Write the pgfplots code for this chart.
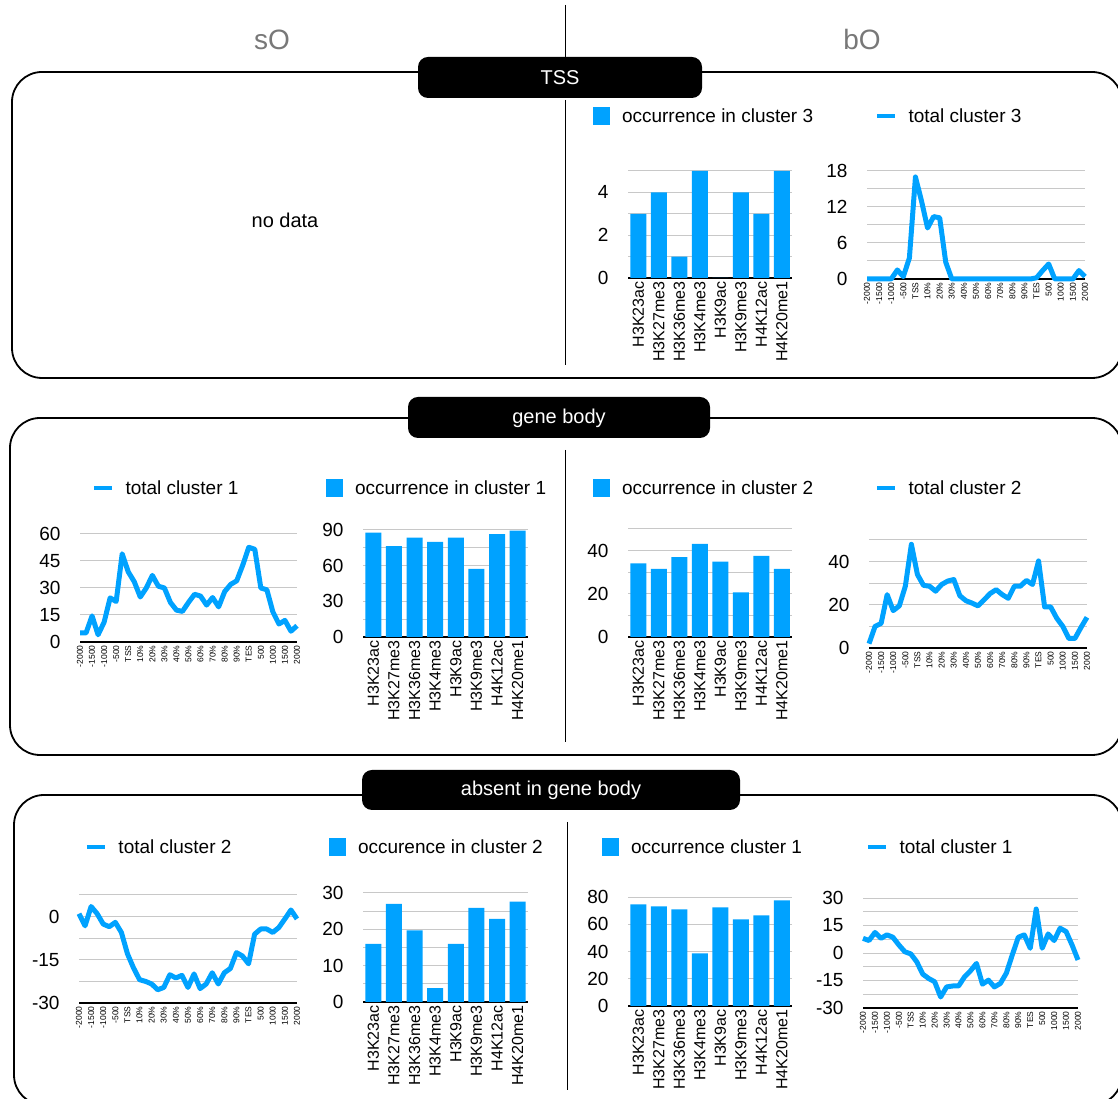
\documentclass[border=0pt]{standalone}
\usepackage{fontspec}
\setmainfont{Liberation Sans}
\usepackage{pgfplots}
\pgfplotsset{compat=1.18}

\definecolor{barblue}{RGB}{0,162,255}
\definecolor{gridgray}{RGB}{200,200,200}
\definecolor{headgray}{RGB}{120,120,120}
\newcommand\fs[1]{\fontsize{#1}{#1}\selectfont}

\pgfplotsset{
  base/.style={
    scale only axis,
    axis x line*=bottom, axis y line*=left,
    y axis line style={draw=none},
    x axis line style={black, line width=1.8pt, -},
    major tick length=0pt, minor tick length=0pt,
    ymajorgrids, yminorgrids,
    major grid style={gridgray, line width=1pt},
    minor grid style={gridgray, line width=1pt},
    yticklabel style={font=\fs{19}, xshift=-16pt},
    /pgf/number format/assume math mode=true,
    legend style={draw=none, fill=none, inner sep=0pt, outer sep=0pt,
      anchor=west, nodes={inner sep=0pt, font=\fs{19}}},
    legend cell align=left,
  },
  barax/.style={
    base, xmin=-0.5, xmax=7.5, ymin=0,
    xtick={0,...,7},
    xticklabels={H3K23ac,H3K27me3,H3K36me3,H3K4me3,H3K9ac,H3K9me3,H4K12ac,H4K20me1},
    xticklabel style={rotate=90, anchor=east, font=\fs{16}},
  },
  lineax/.style={
    base, xmin=0, xmax=36, clip=false,
    xtick={0,2,...,36},
    xticklabels={-2000,-1500,-1000,-500,TSS,10\%,20\%,30\%,40\%,50\%,60\%,70\%,80\%,90\%,TES,500,1000,1500,2000},
    xticklabel style={rotate=90, anchor=east, font=\fs{8.5}},
  },
  bars/.style={ybar, bar width=16pt, fill=barblue, draw=none,
    legend image code/.code={\fill[barblue] (0pt,-9pt) rectangle (17pt,9pt); \path (29pt,0pt);}},
  curve/.style={barblue, line width=5pt, line join=round,
    legend image code/.code={\draw[barblue, line width=4pt] (0pt,0pt) -- (18pt,0pt); \path (29pt,0pt);}},
}

\begin{document}
\begin{tikzpicture}
\useasboundingbox (0pt,0pt) rectangle (1118pt,1099pt);
\clip (0pt,0pt) rectangle (1118pt,1099pt);

\begin{scope}[x=1pt,y=1pt]
  % frames
  \draw[line width=1.8pt, rounded corners=30pt] (12,721) rectangle (1122,1027);
  \draw[line width=1.8pt, rounded corners=30pt] (10,344) rectangle (1122,681);
  \draw[line width=1.8pt, rounded corners=30pt] (14,-6) rectangle (1122,304);
  % dividers
  \draw[line width=1pt] (565,1094) -- (565,1042);
  \draw[line width=1pt] (565,999) -- (565,734);
  \draw[line width=1pt] (565,649) -- (565,357);
  \draw[line width=1pt] (567,277) -- (567,9);
  % pills
  \fill[black, rounded corners=10pt] (418,1001) rectangle (702,1042);
  \fill[black, rounded corners=10pt] (408,661) rectangle (710,702);
  \fill[black, rounded corners=10pt] (362,289) rectangle (740,329);
  \node[white, font=\fs{20}] at (560,1021) {TSS};
  \node[white, font=\fs{20}] at (559,681) {gene body};
  \node[white, font=\fs{20}] at (551,309) {absent in gene body};
  % headers
  \node[headgray, font=\fs{28}] at (272,1059) {sO};
  \node[headgray, font=\fs{28}] at (862,1059) {bO};
  \node[font=\fs{20}] at (285,879) {no data};
\end{scope}

% ---------- TSS, bO ----------
\begin{axis}[barax, at={(628pt,821pt)}, anchor=south west, width=164pt, height=107pt,
  ymax=5, ytick={0,2,4}, minor ytick={1,3,5},
  legend style={at={(-0.2134,1.514)}}]
\addplot[bars] coordinates {(0,3)(1,4)(2,1)(3,5)(4,0)(5,4)(6,3)(7,5)};
\addlegendentry{occurrence in cluster 3}
\end{axis}

\begin{axis}[lineax, at={(867pt,820pt)}, anchor=south west, width=218pt, height=108pt,
  ymin=0, ymax=18, ytick={0,6,12,18}, minor ytick={3,9,15},
  legend style={at={(0.0367,1.509)}}]
\addplot[curve] coordinates {
  (0,0)(1,0)(2,0)(3,0)(4,0)(5,1.5)(6,0.4)(7,3.5)(8,17)(9,13)(10,8.5)(11,10.4)(12,10.2)
  (13,2.8)(14,0)(15,0)(16,0)(17,0)(18,0)(19,0)(20,0)(21,0)(22,0)(23,0)(24,0)(25,0)
  (26,0)(27,0)(28,0.2)(29,1.4)(30,2.5)(31,0)(32,0)(33,0)(34,0)(35,1.4)(36,0.4)};
\addlegendentry{total cluster 3}
\end{axis}

% ---------- gene body, sO ----------
\begin{axis}[lineax, at={(80pt,457pt)}, anchor=south west, width=217pt, height=108pt,
  ymin=0, ymax=60, ytick={0,15,30,45,60},
  legend style={at={(0.0553,1.426)}}]
\addplot[curve] coordinates {
  (0,5)(1,5)(2,14.5)(3,4)(4,11)(5,24.5)(6,22.5)(7,49)(8,39)(9,33.5)(10,25)(11,30)(12,37)
  (13,31)(14,30)(15,22)(16,17.7)(17,17)(18,22)(19,26.5)(20,25.5)(21,20.5)(22,24.7)(23,19.5)
  (24,28)(25,32)(26,34)(27,42.7)(28,52.6)(29,51.5)(30,30)(31,29)(32,16.7)(33,10)(34,12)
  (35,6)(36,9)};
\addlegendentry{total cluster 1}
\end{axis}

\begin{axis}[barax, at={(363pt,462pt)}, anchor=south west, width=165pt, height=107pt,
  ymax=90, ytick={0,30,60,90}, minor ytick={15,45,75},
  legend style={at={(-0.224,1.393)}}]
\addplot[bars] coordinates {(0,87.7)(1,76.5)(2,83.5)(3,80)(4,83.5)(5,57.4)(6,86.6)(7,89.4)};
\addlegendentry{occurrence in cluster 1}
\end{axis}

% ---------- gene body, bO ----------
\begin{axis}[barax, at={(628pt,462pt)}, anchor=south west, width=164pt, height=108pt,
  ymax=50, ytick={0,20,40}, minor ytick={10,30,50},
  legend style={at={(-0.2134,1.380)}}]
\addplot[bars] coordinates {(0,34.1)(1,31.5)(2,37)(3,43.1)(4,34.9)(5,20.6)(6,37.5)(7,31.5)};
\addlegendentry{occurrence in cluster 2}
\end{axis}

\begin{axis}[lineax, at={(869pt,451pt)}, anchor=south west, width=218pt, height=108pt,
  ymin=0, ymax=50, ytick={0,20,40}, minor ytick={10,30,50},
  legend style={at={(0.0275,1.481)}}]
\addplot[curve] coordinates {
  (0,2)(1,10)(2,11.4)(3,24.7)(4,17.3)(5,19.5)(6,28.6)(7,48)(8,34)(9,29)(10,28.6)(11,26.3)
  (12,29.4)(13,31)(14,31.7)(15,24.2)(16,21.9)(17,20.8)(18,19.5)(19,22.3)(20,25.2)(21,27)
  (22,24.7)(23,23)(24,28.6)(25,28.6)(26,31.3)(27,29.4)(28,40.3)(29,19)(30,19)(31,13.8)
  (32,10)(33,4.4)(34,4.4)(35,9.5)(36,14.2)};
\addlegendentry{total cluster 2}
\end{axis}

% ---------- absent in gene body, sO ----------
\begin{axis}[lineax, at={(79pt,96pt)}, anchor=south west, width=218pt, height=108pt,
  ymin=-30, ymax=7.5, ytick={-30,-15,0}, minor ytick={-22.5,-7.5,7.5},
  legend style={at={(0.0275,1.444)}}]
\addplot[curve] coordinates {
  (0,1)(1,-3.2)(2,3.5)(3,1)(4,-2.6)(5,-3.5)(6,-2)(7,-5.5)(8,-12.9)(9,-17.8)(10,-21.9)
  (11,-22.5)(12,-23.4)(13,-25.4)(14,-24.6)(15,-20.2)(16,-21.3)(17,-20.4)(18,-24.6)(19,-19.9)
  (20,-25)(21,-23.4)(22,-19.5)(23,-23.4)(24,-19.5)(25,-18)(26,-12.5)(27,-13.7)(28,-16.4)
  (29,-6.1)(30,-4.3)(31,-4.3)(32,-5.5)(33,-3.8)(34,-0.8)(35,2.3)(36,-0.8)};
\addlegendentry{total cluster 2}
\end{axis}

\begin{axis}[barax, at={(363pt,97pt)}, anchor=south west, width=165pt, height=109pt,
  ymax=30, ytick={0,10,20,30}, minor ytick={5,15,25},
  legend style={at={(-0.206,1.422)}}]
\addplot[bars] coordinates {(0,16)(1,27)(2,19.7)(3,3.8)(4,16)(5,25.9)(6,22.9)(7,27.6)};
\addlegendentry{occurence in cluster 2}
\end{axis}

% ---------- absent in gene body, bO ----------
\begin{axis}[barax, at={(628pt,93pt)}, anchor=south west, width=164pt, height=109pt,
  ymax=80, ytick={0,20,40,60,80},
  legend style={at={(-0.1585,1.459)}}]
\addplot[bars] coordinates {(0,74.6)(1,73.1)(2,70.9)(3,38.6)(4,72.4)(5,63.6)(6,66.5)(7,77.5)};
\addlegendentry{occurrence cluster 1}
\end{axis}

\begin{axis}[lineax, at={(863pt,91pt)}, anchor=south west, width=215pt, height=110pt,
  ymin=-30, ymax=30, ytick={-30,-15,0,15,30}, minor ytick={-22.5,-7.5,7.5,22.5},
  legend style={at={(0.014,1.464)}}]
\addplot[curve] coordinates {
  (0,8)(1,6.8)(2,11.2)(3,8)(4,9.9)(5,8.6)(6,4.4)(7,0.7)(8,-0.5)(9,-4.8)(10,-11.5)(11,-13.9)
  (12,-15.7)(13,-24)(14,-18.5)(15,-18)(16,-18)(17,-13)(18,-9.7)(19,-5.7)(20,-17)(21,-14.8)
  (22,-18.5)(23,-16.6)(24,-11)(25,-1)(26,8.6)(27,9.9)(28,2.6)(29,24)(30,2.6)(31,10.4)
  (32,6.8)(33,13.5)(34,11.7)(35,4.4)(36,-3.8)};
\addlegendentry{total cluster 1}
\end{axis}
\end{tikzpicture}
\end{document}
